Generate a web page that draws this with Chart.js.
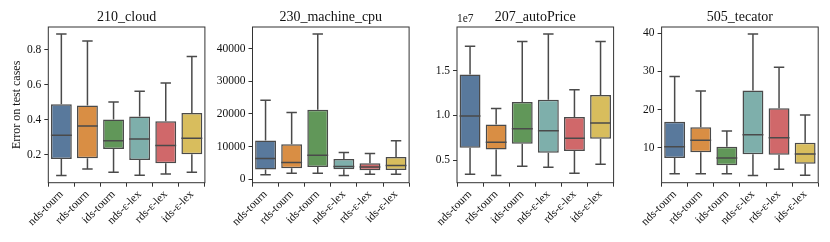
<!DOCTYPE html>
<html>
<head>
<meta charset="utf-8">
<script src="https://cdn.jsdelivr.net/npm/chart.js@4/dist/chart.umd.min.js"></script>
<style>
  html, body { margin: 0; padding: 0; background: #fff; }
  #wrap { position: relative; width: 830px; height: 242px; }
  #wrap canvas { position: absolute; left: 0; top: 0; }
</style>
</head>
<body>
<div id="wrap">
  <canvas id="c0" width="830" height="242"></canvas>
  <canvas id="c1" width="830" height="242"></canvas>
  <canvas id="c2" width="830" height="242"></canvas>
  <canvas id="c3" width="830" height="242"></canvas>
</div>
<script>
/* box plots of test error per selection method, one panel per dataset */

const METHODS = ['nds-tourn', 'rds-tourn', 'ids-tourn', 'nds-ε-lex', 'rds-ε-lex', 'ids-ε-lex'];
const COLORS = ['#59799C', '#D98E44', '#619759', '#7EAFAB', '#D0686A', '#D8BD5D'];
const LINE = '#4a4a4a';
const FRAME = '#333';
const FONT = "'Liberation Serif', 'DejaVu Serif', serif";

// 210_cloud
const cloudLow  = [0.082, 0.120, 0.101, 0.084, 0.091, 0.101];
const cloudQ1   = [0.177, 0.181, 0.234, 0.171, 0.152, 0.204];
const cloudMed  = [0.312, 0.364, 0.280, 0.290, 0.253, 0.295];
const cloudQ3   = [0.488, 0.482, 0.402, 0.419, 0.392, 0.438];
const cloudHigh = [0.888, 0.848, 0.501, 0.562, 0.610, 0.760];
const cloudTicks = [0.2, 0.4, 0.6, 0.8];

// 230_machine_cpu
const cpuLow  = [1430, 1840, 1840, 1130, 1540, 1540];
const cpuQ1   = [2970, 3380, 3790, 3070, 2760, 2870];
const cpuMed  = [6350, 5120, 7370, 3890, 3790, 4200];
const cpuQ3   = [11870, 10750, 21290, 6240, 4910, 6860];
const cpuHigh = [24150, 20470, 44420, 8190, 7880, 11770];
const cpuTicks = [0, 10000, 20000, 30000, 40000];

// 207_autoPrice
const priceLow  = [3.43e6, 3.28e6, 4.33e6, 4.22e6, 3.54e6, 4.55e6];
const priceQ1   = [6.38e6, 6.19e6, 6.83e6, 5.82e6, 6.04e6, 7.39e6];
const priceMed  = [9.93e6, 7.01e6, 8.51e6, 8.28e6, 7.46e6, 9.14e6];
const priceQ3   = [14.55e6, 8.99e6, 11.49e6, 11.75e6, 9.81e6, 12.28e6];
const priceHigh = [17.72e6, 10.78e6, 18.25e6, 19.07e6, 12.87e6, 18.25e6];
const priceTicks = [0.5e7, 1.0e7, 1.5e7];

// 505_tecator
const tecLow  = [3.2, 3.2, 3.2, 2.7, 4.4, 2.8];
const tecQ1   = [7.3, 8.8, 5.4, 8.3, 8.2, 5.8];
const tecMed  = [10.3, 12.0, 7.3, 13.4, 12.6, 8.4];
const tecQ3   = [16.8, 15.4, 10.3, 25.0, 20.35, 11.3];
const tecHigh = [28.7, 24.9, 14.4, 39.8, 31.1, 18.6];
const tecTicks = [10, 20, 30, 40];

const PANELS = [
  { title: '210_cloud', low: cloudLow, q1: cloudQ1, med: cloudMed, q3: cloudQ3, high: cloudHigh,
    ticks: cloudTicks, fmt: (v) => v.toFixed(1), left: 48.3, axisW: 48.3, ylabel: 'Error on test cases' },
  { title: '230_machine_cpu', low: cpuLow, q1: cpuQ1, med: cpuMed, q3: cpuQ3, high: cpuHigh,
    ticks: cpuTicks, fmt: (v) => String(v), left: 252.5, axisW: 40 },
  { title: '207_autoPrice', low: priceLow, q1: priceQ1, med: priceMed, q3: priceQ3, high: priceHigh,
    ticks: priceTicks, fmt: (v) => (v / 1e7).toFixed(1), left: 457, axisW: 40, offsetText: '1e7' },
  { title: '505_tecator', low: tecLow, q1: tecQ1, med: tecMed, q3: tecQ3, high: tecHigh,
    ticks: tecTicks, fmt: (v) => String(v), left: 661.6, axisW: 40 },
];
const PLOT_W = 156.6;

/* whiskers, caps and medians on top of the floating bars */
const boxPlugin = {
  id: 'boxes',
  afterDatasetsDraw(chart, args, opts) {
    const { ctx, scales: { y } } = chart;
    const meta = chart.getDatasetMeta(0);
    ctx.save();
    ctx.strokeStyle = LINE;
    ctx.lineWidth = 1.5;
    ctx.lineCap = 'butt';
    meta.data.forEach((bar, i) => {
      const cx = bar.x, half = bar.width / 2, cap = half / 2;
      const yLow = y.getPixelForValue(opts.low[i]);
      const yQ1 = y.getPixelForValue(opts.q1[i]);
      const yMed = y.getPixelForValue(opts.med[i]);
      const yQ3 = y.getPixelForValue(opts.q3[i]);
      const yHigh = y.getPixelForValue(opts.high[i]);
      ctx.beginPath();
      ctx.moveTo(cx, yQ1); ctx.lineTo(cx, yLow);
      ctx.moveTo(cx - cap, yLow); ctx.lineTo(cx + cap, yLow);
      ctx.moveTo(cx, yQ3); ctx.lineTo(cx, yHigh);
      ctx.moveTo(cx - cap, yHigh); ctx.lineTo(cx + cap, yHigh);
      ctx.moveTo(cx - half, yMed); ctx.lineTo(cx + half, yMed);
      ctx.stroke();
    });
    ctx.restore();
  },
  afterDraw(chart, args, opts) {
    const { ctx, chartArea: a } = chart;
    ctx.save();
    ctx.strokeStyle = FRAME;
    ctx.lineWidth = 1;
    ctx.strokeRect(a.left, a.top, a.right - a.left, a.bottom - a.top);
    if (opts.offsetText) {
      ctx.fillStyle = '#222';
      ctx.font = '11.5px ' + FONT;
      ctx.textAlign = 'left';
      ctx.textBaseline = 'bottom';
      ctx.fillText(opts.offsetText, a.left, a.top - 2);
    }
    ctx.restore();
  },
};

function drawPanel(p, idx) {
  // matplotlib-style 5% margins around the whisker range
  const lo = Math.min(...p.low), hi = Math.max(...p.high);
  const pad = (hi - lo) * 0.05;

  new Chart(document.getElementById('c' + idx), {
    type: 'bar',
    data: {
      labels: METHODS,
      datasets: [{
        data: METHODS.map((m, i) => [p.q1[i], p.q3[i]]),
        backgroundColor: COLORS,
        borderColor: LINE,
        borderWidth: 1.5,
        borderSkipped: false,
        barPercentage: 0.8,
        categoryPercentage: 1.0,
      }],
    },
    plugins: [boxPlugin],
    options: {
      responsive: false,
      animation: false,
      events: [],
      layout: { padding: { left: p.left - p.axisW, right: 830 - p.left - PLOT_W, top: 0, bottom: 0 } },
      plugins: {
        legend: { display: false },
        tooltip: { enabled: false },
        title: {
          display: true, text: p.title, fullSize: false, color: '#111',
          font: { family: FONT, size: 14, weight: 'normal', lineHeight: 1.2 },
          padding: { top: 9, bottom: 1.2 },
        },
        boxes: { low: p.low, q1: p.q1, med: p.med, q3: p.q3, high: p.high, offsetText: p.offsetText },
      },
      scales: {
        x: {
          grid: { display: true, drawOnChartArea: false, drawTicks: true, tickLength: 4, color: FRAME },
          border: { display: false },
          ticks: {
            color: '#111', autoSkip: false, minRotation: 45, maxRotation: 45, padding: 1,
            font: { family: FONT, size: 11.5 },
          },
          afterFit: (s) => { s.height = 242 - 182.7 - 0; },
        },
        y: {
          min: lo - pad, max: hi + pad,
          grid: { display: true, drawOnChartArea: false, drawTicks: true, tickLength: 4, color: FRAME },
          border: { display: false },
          ticks: { color: '#111', padding: 3, font: { family: FONT, size: 11.5 }, callback: (v) => p.fmt(v) },
          afterBuildTicks: (s) => { s.ticks = p.ticks.map((v) => ({ value: v })); },
          afterFit: (s) => { s.width = p.axisW; },
          title: p.ylabel ? {
            display: true, text: p.ylabel, color: '#111',
            font: { family: FONT, size: 12, lineHeight: 1.2 }, padding: { top: 10, bottom: 0 },
          } : { display: false },
        },
      },
    },
  });
}

PANELS.forEach(drawPanel);
</script>
</body>
</html>
